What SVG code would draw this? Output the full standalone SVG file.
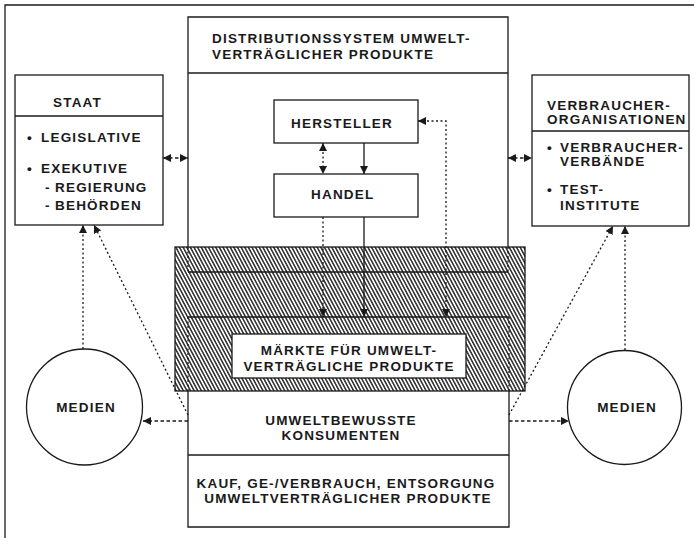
<svg xmlns="http://www.w3.org/2000/svg" width="694" height="538" viewBox="0 0 694 538">
<defs>
<style>
.t{font-family:"Liberation Sans",Arial,Helvetica,sans-serif;font-weight:bold;font-size:13.5px;letter-spacing:1.2px;fill:#1a1a1a}
.m{text-anchor:middle}
.b{fill:#fff;stroke:#1a1a1a;stroke-width:1.3}
.l{fill:none;stroke:#1a1a1a;stroke-width:1.3}
.d{fill:none;stroke:#1a1a1a;stroke-width:1.3;stroke-dasharray:2 2.5}
.h{fill:none;stroke:#1a1a1a;stroke-width:1.3;stroke-dasharray:3.5 2.5}
</style>
<marker id="a" viewBox="0 0 10 10" refX="10" refY="5" markerWidth="8" markerHeight="8" markerUnits="userSpaceOnUse" orient="auto-start-reverse">
<path d="M0,0 L10,5 L0,10 z" fill="#1a1a1a"/>
</marker>
<pattern id="hatch" width="3.2" height="3.2" patternUnits="userSpaceOnUse" patternTransform="rotate(-28)">
<rect width="3.2" height="3.2" fill="#fff"/>
<line x1="0.8" y1="0" x2="0.8" y2="3.2" stroke="#1a1a1a" stroke-width="1.4"/>
</pattern>
</defs>
<rect width="694" height="538" fill="#fff"/>
<path id="frame" class="l" d="M5,538 V5 H694"/>

<g id="maerkte-bereich">
<rect x="175" y="247" width="350" height="144" fill="url(#hatch)" stroke="#1a1a1a" stroke-width="1.3"/>
</g>

<g id="distributionssystem">
<path class="l" d="M188,247 V17 H508 V247"/>
<line class="l" x1="188" y1="73" x2="508" y2="73"/>
<path class="d" d="M188,247 V272 M508,247 V272"/>
<line class="l" x1="188" y1="272" x2="508" y2="272"/>
<text class="t" x="212" y="43">DISTRIBUTIONSSYSTEM UMWELT-</text>
<text class="t" x="212" y="59">VERTRÄGLICHER PRODUKTE</text>
</g>

<g id="konsumenten">
<line class="l" x1="188" y1="317" x2="509" y2="317"/>
<path class="d" d="M188,317 V391 M509,317 V391"/>
<path class="l" d="M188,391 V527 H509 V391"/>
<line class="l" x1="188" y1="455" x2="509" y2="455"/>
<text class="t m" x="341" y="425">UMWELTBEWUSSTE</text>
<text class="t m" x="341" y="440">KONSUMENTEN</text>
<text class="t m" x="346" y="488">KAUF, GE-/VERBRAUCH, ENTSORGUNG</text>
<text class="t m" x="348" y="503">UMWELTVERTRÄGLICHER PRODUKTE</text>
</g>

<g id="maerkte">
<rect class="b" x="232" y="334" width="234" height="44"/>
<text class="t m" x="349" y="355">MÄRKTE FÜR UMWELT-</text>
<text class="t m" x="349" y="371">VERTRÄGLICHE PRODUKTE</text>
</g>

<g id="hersteller">
<rect class="b" x="274" y="100" width="144" height="43"/>
<text class="t" x="291" y="128">HERSTELLER</text>
</g>

<g id="handel">
<rect class="b" x="274" y="174" width="144" height="43"/>
<text class="t" x="311" y="199">HANDEL</text>
</g>

<g id="staat">
<rect class="b" x="15" y="75" width="148" height="150"/>
<line class="l" x1="15" y1="116" x2="163" y2="116"/>
<text class="t" x="53" y="107">STAAT</text>
<text class="t" y="142"><tspan x="27">•</tspan><tspan x="41">LEGISLATIVE</tspan></text>
<text class="t" y="173"><tspan x="27">•</tspan><tspan x="41">EXEKUTIVE</tspan></text>
<text class="t" y="192"><tspan x="45">-</tspan><tspan x="55">REGIERUNG</tspan></text>
<text class="t" y="210"><tspan x="45">-</tspan><tspan x="55">BEHÖRDEN</tspan></text>
</g>

<g id="verbraucherorganisationen">
<rect class="b" x="532" y="75" width="157" height="151"/>
<line class="l" x1="532" y1="131" x2="689" y2="131"/>
<text class="t" x="547" y="110">VERBRAUCHER-</text>
<text class="t" x="547" y="124">ORGANISATIONEN</text>
<text class="t" y="152"><tspan x="547">•</tspan><tspan x="560">VERBRAUCHER-</tspan></text>
<text class="t" x="560" y="166">VERBÄNDE</text>
<text class="t" y="194"><tspan x="547">•</tspan><tspan x="560">TEST-</tspan></text>
<text class="t" x="560" y="210">INSTITUTE</text>
</g>

<g id="medien-links">
<circle class="b" cx="84.5" cy="407" r="58"/>
<text class="t m" x="86" y="412">MEDIEN</text>
</g>

<g id="medien-rechts">
<circle class="b" cx="624.5" cy="407.5" r="57"/>
<text class="t m" x="627" y="412">MEDIEN</text>
</g>

<g id="connectors">
<line class="h" x1="163" y1="158" x2="188" y2="158" marker-start="url(#a)" marker-end="url(#a)"/>
<line class="h" x1="508" y1="158" x2="532" y2="158" marker-start="url(#a)" marker-end="url(#a)"/>
<line class="l" x1="364" y1="143" x2="364" y2="174" marker-end="url(#a)"/>
<line class="d" x1="323" y1="143" x2="323" y2="174" marker-start="url(#a)" marker-end="url(#a)"/>
<line class="d" x1="323" y1="217" x2="323" y2="317" marker-end="url(#a)"/>
<line class="l" x1="364" y1="217" x2="364" y2="317" marker-end="url(#a)"/>
<path class="d" d="M418,121 H446 V317" marker-start="url(#a)" marker-end="url(#a)"/>
<line class="d" x1="83" y1="349" x2="83" y2="225" marker-end="url(#a)"/>
<line class="d" x1="188" y1="415" x2="94" y2="225" marker-end="url(#a)"/>
<line class="h" x1="188" y1="421" x2="143" y2="421" marker-end="url(#a)"/>
<line class="h" x1="509" y1="421" x2="569" y2="421" marker-end="url(#a)"/>
<line class="d" x1="509" y1="415" x2="613" y2="226" marker-end="url(#a)"/>
<line class="d" x1="625" y1="350" x2="625" y2="226" marker-end="url(#a)"/>
</g>
</svg>
